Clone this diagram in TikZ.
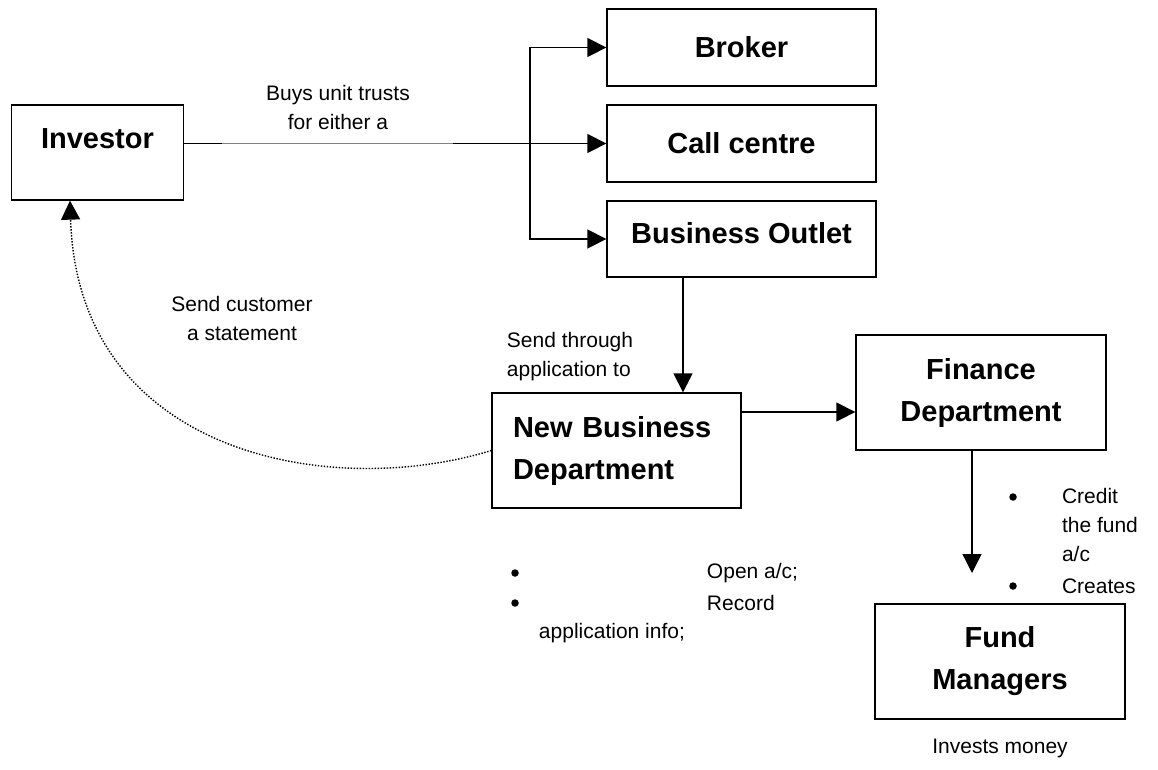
\documentclass[tikz,border=0pt]{standalone}
\usepackage{fontspec}
\setmainfont{Liberation Sans}
\usetikzlibrary{arrows.meta,positioning,calc}

\begin{document}
\begin{tikzpicture}[x=1pt, y=-1pt, line width=1.3pt,
			every node/.style={font=\fontsize{21}{29}\selectfont},
			b/.style={draw, line width=1.3pt, font=\fontsize{29}{42}\selectfont\bfseries, align=center},
			a/.style={-{Triangle[length=19pt,width=19pt]}},
			t/.style={align=left, anchor=west},
			dot/.style={circle, fill, inner sep=0pt, minimum size=7.5pt}]
			\useasboundingbox (0,0) rectangle (1158,769);
			% boxes
			\node[b, minimum width=172pt, minimum height=95pt, text height=22pt, text depth=31pt] (inv) at (97.5,152.5) {Investor};
			\node[b, minimum width=269pt, minimum height=77pt] (brk) at (741.5,47.5) {Broker};
			\node[b, minimum width=269pt, minimum height=77pt] (cc) at (741.5,143.5) {Call centre};
			\node[b, minimum width=269pt, minimum height=76pt, text height=22pt, text depth=14pt] (bo) at (741.5,239) {Business Outlet};
			\node[b, align=left, text width=207pt, inner xsep=21pt, minimum height=115pt] (nbd) at (616.5,450.5) {New Business\\Department};
			\node[b, minimum width=250pt, minimum height=115pt] (fin) at (981,392.5) {Finance\\Department};
			\node[b, minimum width=250pt, minimum height=115pt] (fund) at (1000,661.5) {Fund\\Managers};
			% investor to the three channels
			\coordinate (g1) at (222,143.5);
			\coordinate (g2) at (453,143.5);
			\coordinate (j) at (530,143.5);
			\draw (inv.east |- g1) -- (g1);
			\draw[line width=0.6pt, gray] (g1) -- (g2);
			\draw[a] (g2) -- (cc.west);
			\draw[a] (j) |- (brk.west);
			\draw[a] (j) |- (bo.west);
			\node (buy) at (338,107) [align=center] {Buys unit trusts\\for either a};
			% down to new business and on
			\draw[a] ([xshift=-58.5pt]bo.south) -- ([xshift=-58.5pt]bo.south |- nbd.north);
			\node[t] (snd) at (503,356.5) {Send through\\application to};
			\draw[a] ([yshift=38.5pt]nbd.east) -- ([yshift=38.5pt]nbd.east -| fin.west);
			\coordinate (fe) at (972,573);
			\draw[a] (fe |- fin.south) -- (fe);
			% statement back to the investor
			\draw[a, line width=1.4pt, dash pattern=on 1.4pt off 1.6pt] (nbd.west) .. controls (330,500) and (78,455) .. ([xshift=-27.5pt]inv.south);
			\node (stm) at (242,318) [align=center] {Send customer\\a statement};
			% notes
			\foreach \y [count=\i] in {573,603} \node[dot] (nb\i) at (515,\y) {};
			\node[t] (nt1) at (703,573) {Open a/c;};
			\node[t] (nt2) at (703,603) {Record};
			\node[t] (nt3) at (535,633) {application info;};
			\foreach \y [count=\i] in {497,586} \node[dot] (fb\i) at (1013,\y) {};
			\node[t] (ft1) at (1058,525) {Credit\\the fund\\a/c};
			\node[t] (ft2) at (1058,586) {Creates};
			\node (inm) at (1000,748) {Invests money};
		\end{tikzpicture}
\end{document}
